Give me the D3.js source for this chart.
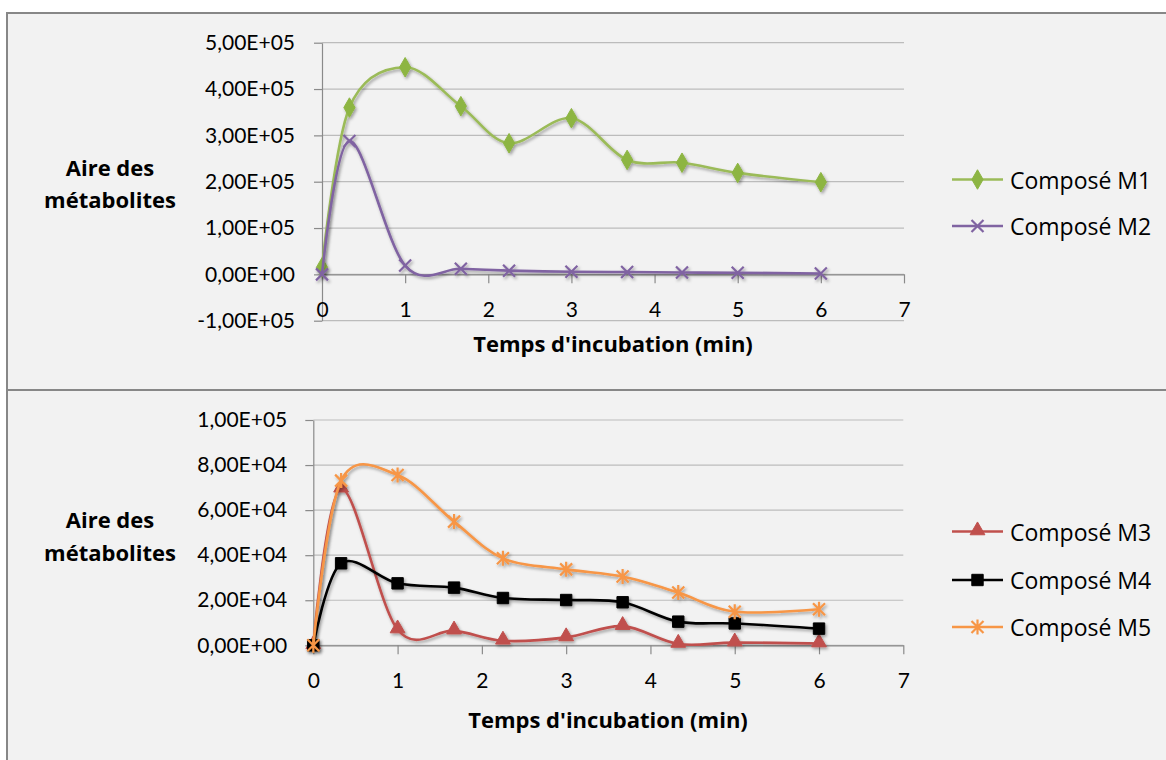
<!DOCTYPE html>
<html>
<head>
<meta charset="utf-8">
<script src="https://cdn.jsdelivr.net/npm/d3@7"></script>
<style>
  html, body { margin: 0; padding: 0; background: #ffffff; }
  svg { display: block; }
  text { font-family: Lato, "Noto Sans", sans-serif; fill: #000; }
  .label { font-family: "Open Sans", Lato, sans-serif; }
</style>
</head>
<body>
<svg id="chart" width="1166" height="760"></svg>
<script>
// Incubation times (min)
const times = [0, 0.33, 1, 1.67, 2.25, 3, 3.67, 4.33, 5, 6];

// Peak areas of each metabolite
const m1 = [15000, 360000, 447000, 363000, 283000, 337000, 247000, 241000, 219000, 199000];
const m2 = [0, 288000, 19000, 12000, 8000, 5500, 5000, 4000, 3500, 2000];
const m3 = [0, 69500, 7000, 6500, 2000, 3500, 8500, 600, 1200, 800];
const m4 = [0, 36400, 27500, 25600, 21000, 20100, 19100, 10500, 9700, 7400];
const m5 = [0, 73100, 75600, 54900, 38600, 33700, 30500, 23400, 14900, 16000];

// Axis ticks
const xTicks = [0, 1, 2, 3, 4, 5, 6, 7];
const topYTicks = [-100000, 0, 100000, 200000, 300000, 400000, 500000];
const bottomYTicks = [0, 20000, 40000, 60000, 80000, 100000];

// Labels
const yTitle = ["Aire des", "métabolites"];
const xTitle = "Temps d'incubation (min)";
const topNames = ["Composé M1", "Composé M2"];
const bottomNames = ["Composé M3", "Composé M4", "Composé M5"];

const FONT = 21;
const TITLE_FONT = 22;
const LEGEND_FONT = 23;

// Scientific notation with a decimal comma, e.g. 5,00E+05
function sci(v) {
  if (v === 0) return "0,00E+00";
  const e = Math.floor(Math.log10(Math.abs(v)));
  const m = v / Math.pow(10, e);
  const exp = (e < 0 ? "-" : "+") + String(Math.abs(e)).padStart(2, "0");
  return m.toFixed(2).replace(".", ",") + "E" + exp;
}

const svg = d3.select("#chart");

// Soft drop shadow under the series
const defs = svg.append("defs");
const f = defs.append("filter").attr("id", "shadow")
  .attr("x", "-20%").attr("y", "-20%").attr("width", "140%").attr("height", "140%");
f.append("feDropShadow").attr("dx", 1.5).attr("dy", 2).attr("stdDeviation", 1.5)
  .attr("flood-color", "#000").attr("flood-opacity", 0.35);

// Marker shapes drawn around (0,0)
const markers = {
  diamond: (g, c) => g.append("path").attr("d", d3.symbol(d3.symbolDiamond, 110)())
      .attr("fill", c.fill).attr("stroke", c.fill).attr("stroke-width", 1),
  cross: (g, c) => g.append("path").attr("d", "M-6,-6L6,6M-6,6L6,-6")
      .attr("fill", "none").attr("stroke", c.stroke).attr("stroke-width", 2.2),
  triangle: (g, c) => g.append("path").attr("d", d3.symbol(d3.symbolTriangle, 95)())
      .attr("transform", "translate(0,-1)")
      .attr("fill", c.fill).attr("stroke", c.fill).attr("stroke-width", 1),
  square: (g, c) => g.append("path").attr("d", d3.symbol(d3.symbolSquare, 130)())
      .attr("fill", c.fill).attr("stroke", c.fill).attr("stroke-width", 1),
  star: (g, c) => g.append("path").attr("d", "M-6,-6L6,6M-6,6L6,-6M0,-7.5L0,7.5")
      .attr("fill", "none").attr("stroke", c.stroke).attr("stroke-width", 2.2)
};

const topSeries = [
  { name: topNames[0], values: m1, stroke: "#9BBB59", fill: "#8DB543", marker: "diamond" },
  { name: topNames[1], values: m2, stroke: "#8064A2", fill: "#8064A2", marker: "cross" }
];
const bottomSeries = [
  { name: bottomNames[0], values: m3, stroke: "#C0504D", fill: "#C0504D", marker: "triangle" },
  { name: bottomNames[1], values: m4, stroke: "#000000", fill: "#000000", marker: "square" },
  { name: bottomNames[2], values: m5, stroke: "#F79646", fill: "#F79646", marker: "star" }
];

// Panel frames
svg.append("rect").attr("x", 7).attr("y", 13).attr("width", 1200).attr("height", 377)
  .attr("fill", "#f2f2f2").attr("stroke", "#878787").attr("stroke-width", 2);
svg.append("rect").attr("x", 7).attr("y", 390).attr("width", 1200).attr("height", 400)
  .attr("fill", "#f2f2f2").attr("stroke", "#878787").attr("stroke-width", 2);

function panel(cfg) {
  const x = d3.scaleLinear().domain([0, 7]).range(cfg.xRange);
  const y = d3.scaleLinear().domain(cfg.yDomain).range(cfg.yRange);
  const g = svg.append("g");

  // Horizontal gridlines
  g.append("g").selectAll("line").data(cfg.yTicks).join("line")
    .attr("x1", x(0)).attr("x2", x(7))
    .attr("y1", d => y(d)).attr("y2", d => y(d))
    .attr("stroke", "#bcbcbc").attr("stroke-width", 1.2);

  // Vertical axis
  const ya = g.append("g").attr("transform", `translate(${x(0)},0)`)
    .call(d3.axisLeft(y).tickValues(cfg.yTicks).tickFormat(sci)
      .tickSize(8).tickSizeOuter(0).tickPadding(cfg.yPad));
  ya.select(".domain").attr("stroke", "#8a8a8a").attr("stroke-width", 1.2);
  ya.selectAll(".tick line").attr("stroke", "#8a8a8a").attr("stroke-width", 1.2);
  ya.selectAll("text").attr("font-size", FONT).attr("font-family", "Lato").attr("fill", "#000");

  // Horizontal axis, crossing at zero
  const xa = g.append("g").attr("transform", `translate(0,${y(0)})`)
    .call(d3.axisBottom(x).tickValues(xTicks).tickFormat(d3.format("d"))
      .tickSize(9).tickSizeOuter(0));
  xa.select(".domain").attr("stroke", "#8a8a8a").attr("stroke-width", 1.2);
  xa.selectAll(".tick line").attr("stroke", "#8a8a8a").attr("stroke-width", 1.2);
  xa.selectAll("text").attr("font-size", FONT).attr("font-family", "Lato").attr("fill", "#000")
    .attr("y", cfg.xLabelOffset).attr("dy", "0.36em");

  // Axis titles
  g.append("text").attr("class", "label").attr("x", cfg.xTitlePos[0]).attr("y", cfg.xTitlePos[1])
    .attr("text-anchor", "middle").attr("font-weight", "bold").attr("font-size", TITLE_FONT)
    .text(xTitle);
  yTitle.forEach((t, i) => {
    g.append("text").attr("class", "label").attr("x", 110).attr("y", cfg.yTitleY[i])
      .attr("text-anchor", "middle").attr("dominant-baseline", "central")
      .attr("font-weight", "bold").attr("font-size", TITLE_FONT).text(t);
  });

  // Series: smoothed lines with markers
  const line = d3.line().x((d, i) => x(times[i])).y(d => y(d)).curve(d3.curveCardinal.tension(0));
  cfg.series.forEach(s => {
    const sg = g.append("g").attr("filter", "url(#shadow)");
    sg.append("path").datum(s.values).attr("d", line)
      .attr("fill", "none").attr("stroke", s.stroke).attr("stroke-width", 2.6)
      .attr("stroke-linejoin", "round");
    s.values.forEach((v, i) => {
      const mg = sg.append("g").attr("transform", `translate(${x(times[i])},${y(v)})`);
      markers[s.marker](mg, s);
    });
  });

  // Legend
  cfg.series.forEach((s, i) => {
    const ly = cfg.legendY[i];
    const lg = svg.append("g");
    lg.append("line").attr("x1", 952).attr("x2", 1003).attr("y1", ly).attr("y2", ly)
      .attr("stroke", s.stroke).attr("stroke-width", 2.6);
    const mg = lg.append("g").attr("transform", `translate(977.5,${ly})`);
    markers[s.marker](mg, s);
    lg.append("text").attr("class", "label").attr("x", 1010).attr("y", ly)
      .attr("dominant-baseline", "central")
      .attr("font-size", LEGEND_FONT).text(s.name);
  });
}

panel({
  xRange: [322, 904], yDomain: [-100000, 500000], yRange: [320.7, 42.7],
  yTicks: topYTicks, yPad: 19, xLabelOffset: 35,
  xTitlePos: [613, 352], yTitleY: [167, 199],
  series: topSeries, legendY: [179.5, 226]
});

panel({
  xRange: [313.3, 903.3], yDomain: [0, 100000], yRange: [645.3, 420],
  yTicks: bottomYTicks, yPad: 18, xLabelOffset: 35,
  xTitlePos: [608, 728], yTitleY: [518.5, 551.5],
  series: bottomSeries, legendY: [531.5, 580, 627]
});
</script>
</body>
</html>
